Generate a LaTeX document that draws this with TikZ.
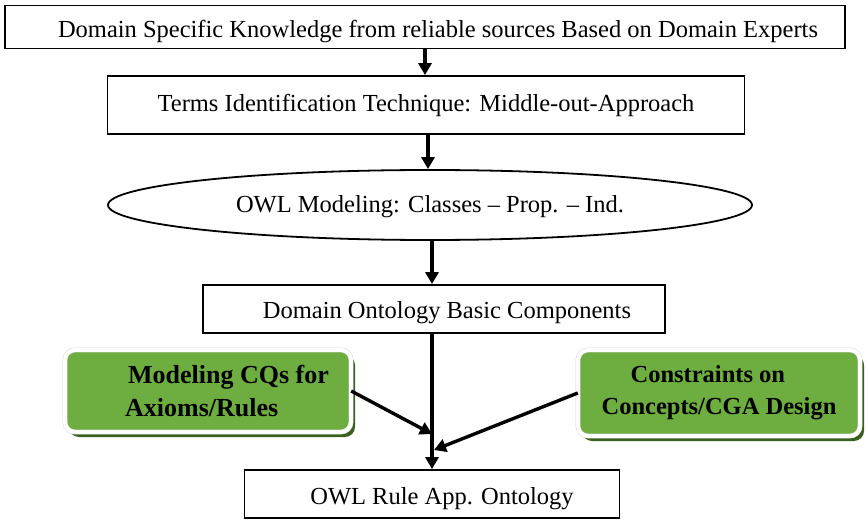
\documentclass[tikz,border=0pt]{standalone}
\usepackage{fontspec}
\setmainfont{Liberation Serif}
\usetikzlibrary{shapes.geometric,arrows.meta,shadows}
\definecolor{leafgreen}{RGB}{110,174,64}
\definecolor{darkleaf}{RGB}{58,96,32}
% lower a label inside its box without changing the box
\newcommand{\lowered}[2]{\raisebox{-#1}[\height][\depth]{#2}}
\begin{document}
\begin{tikzpicture}[x=1pt,y=-1pt]
	\tikzstyle{stage}=[draw, line width=1.8pt, inner sep=0pt, font=\fontsize{24.5}{28}\selectfont]
	\tikzstyle{greenbox}=[rounded corners=10pt, fill=leafgreen, draw=gray!35, double=white, double distance=4pt, align=left, inner sep=0pt, font=\fontsize{26}{33}\selectfont\bfseries, drop shadow={shadow xshift=4pt, shadow yshift=-5pt, fill=darkleaf, opacity=1}]
	\tikzstyle{every edge}=[draw, line width=3.4pt, -{Triangle[length=12pt,width=13pt]}]

	\useasboundingbox (0,0) rectangle (868,521);

	\node (src) at (425,27) [stage, minimum width=840pt, minimum height=43pt] {\lowered{5pt}{\hspace*{26pt}Domain Specific Knowledge from reliable sources Based on Domain Experts}};
	\node (terms) at (426,105) [stage, minimum width=637pt, minimum height=58pt] {Terms Identification Technique: Middle-out-Approach};
	\node (owl) at (430,205) [stage, ellipse, minimum width=644pt, minimum height=70pt] {\lowered{2pt}{OWL Modeling: Classes -- Prop. -- Ind.}};
	\node (comp) at (434,309) [stage, minimum width=462pt, minimum height=48pt] {\lowered{4pt}{\hspace*{26pt}Domain Ontology Basic Components}};
	\node (rule) at (432,494) [stage, minimum width=375pt, minimum height=48pt] {\lowered{5pt}{\hspace*{20pt}OWL Rule App. Ontology}};

	\node (cq) at (208,391) [greenbox, minimum width=286pt, minimum height=82pt] {\hspace*{41pt}Modeling CQs for\\\hspace*{38pt}Axioms/Rules};
	\node (cga) at (719,393) [greenbox, minimum width=282pt, minimum height=86pt, font=\fontsize{24.5}{32}\selectfont\bfseries] {\hspace*{29pt}Constraints on\\Concepts/CGA Design};

	\coordinate (joinA) at (432,434);
	\coordinate (joinB) at (434,450);

	\path (src.south -| 425,0) edge (terms.north -| 425,0);
	\path (terms.south -| 428,0) edge (owl.north -| 428,0);
	\path (owl.south -| 432,0) edge (comp.north -| 432,0);
	\path (comp.south -| 432,0) edge (rule.north -| 432,0);

	\path [line width=1.8pt] (cq.east) edge (joinA);
	\path [line width=1.8pt] (cga.west) edge (joinB);
\end{tikzpicture}
\end{document}
